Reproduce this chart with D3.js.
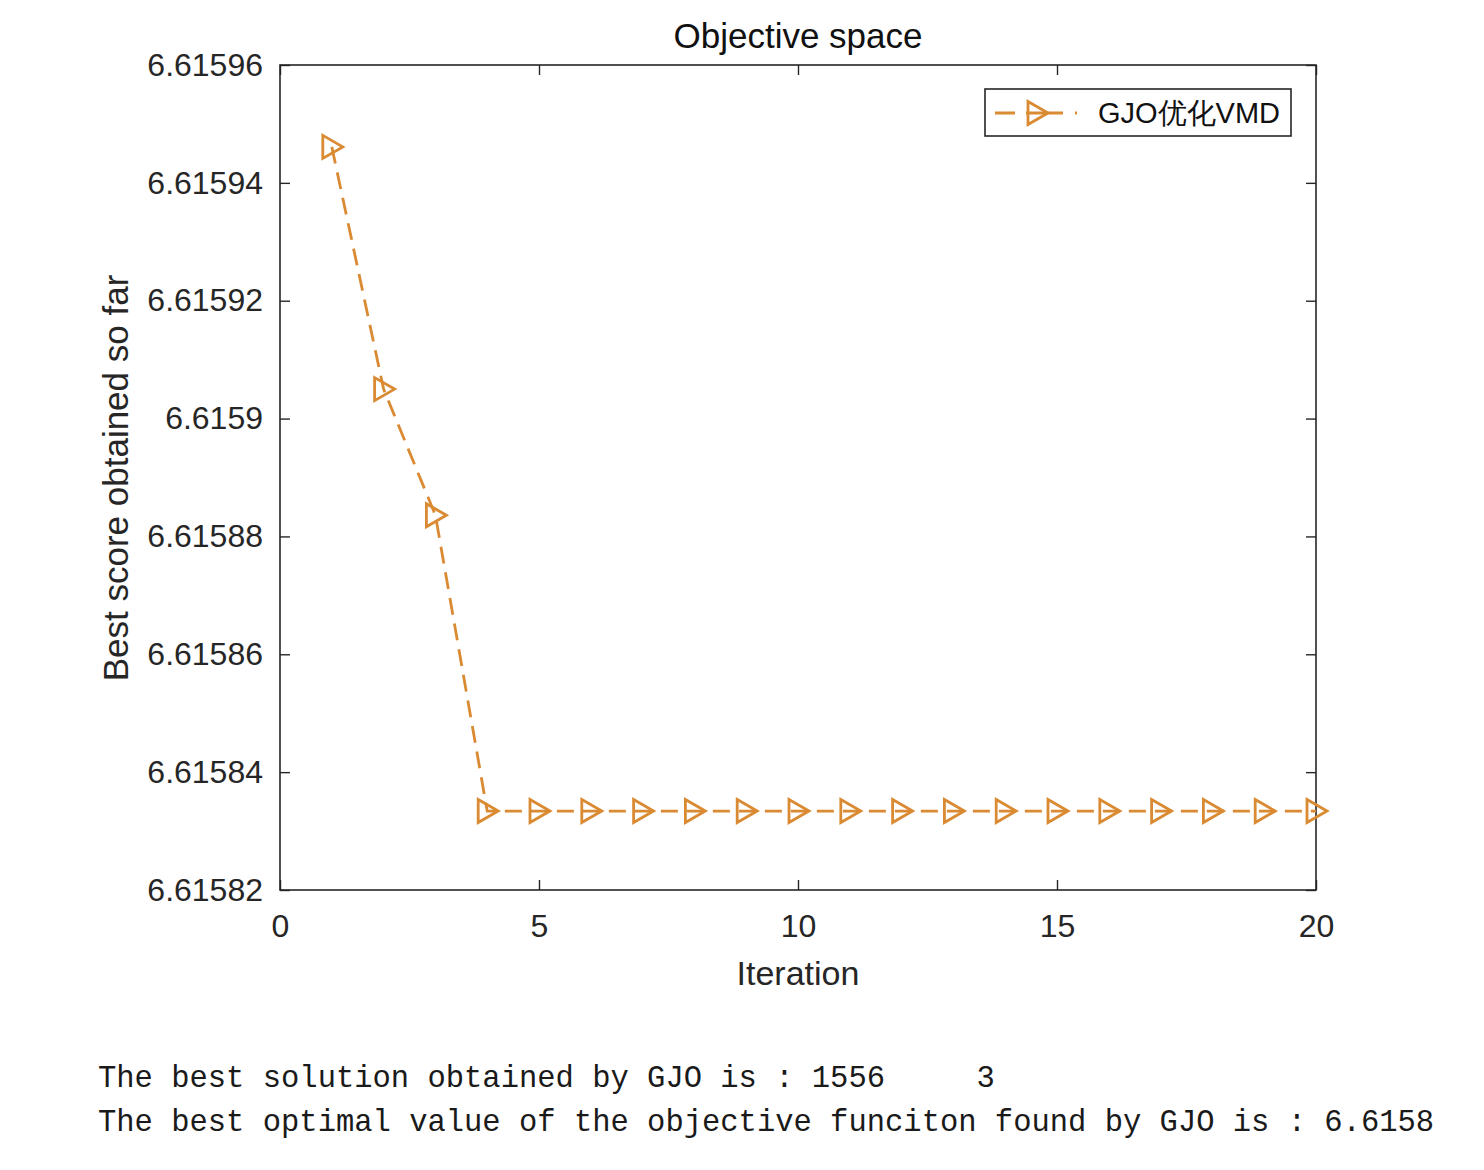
<!DOCTYPE html>
<html>
<head>
<meta charset="utf-8">
<script src="https://cdn.jsdelivr.net/npm/d3@7"></script>
<style>
  html, body { margin: 0; padding: 0; background: #fff; }
  svg { display: block; }
</style>
</head>
<body>
<svg id="chart" width="1484" height="1170"></svg>
<script>
// convergence curve
const iterations = d3.range(1, 21);
const bestScores = [
  6.6159461, 6.6159050, 6.6158836,
  6.6158334, 6.6158334, 6.6158334, 6.6158334, 6.6158334, 6.6158334, 6.6158334,
  6.6158334, 6.6158334, 6.6158334, 6.6158334, 6.6158334, 6.6158334, 6.6158334,
  6.6158334, 6.6158334, 6.6158334
];
const xTicks = [0, 5, 10, 15, 20];
const yTicks = [6.61582, 6.61584, 6.61586, 6.61588, 6.6159, 6.61592, 6.61594, 6.61596];
const seriesName = "GJO优化VMD";
const consoleLines = [
  "The best solution obtained by GJO is : 1556     3",
  "The best optimal value of the objective funciton found by GJO is : 6.6158"
];

const ink = "#262626";
const orange = "#D98A32";
const sans = "Liberation Sans, Arial, Helvetica, sans-serif";

const margin = { top: 65, right: 168, bottom: 280, left: 280 };
const width = 1484 - margin.left - margin.right;
const height = 1170 - margin.top - margin.bottom;

const svg = d3.select("#chart");
const g = svg.append("g").attr("transform", `translate(${margin.left},${margin.top})`);

const x = d3.scaleLinear().domain([0, 20]).range([0, width]);
const y = d3.scaleLinear().domain([6.61582, 6.61596]).range([height, 0]);

const styleAxis = (axis) => {
  axis.select(".domain").remove();
  axis.selectAll("line").attr("stroke", ink).attr("stroke-width", 1.4);
  axis.selectAll("text").attr("fill", ink).style("font-family", sans).style("font-size", "32px");
};

// bottom / top ticks (inward)
g.append("g")
  .attr("transform", `translate(0,${height})`)
  .call(d3.axisBottom(x).tickValues(xTicks).tickSizeInner(-10).tickSizeOuter(0).tickPadding(24).tickFormat(d3.format("d")))
  .call(styleAxis);
g.append("g")
  .call(d3.axisTop(x).tickValues(xTicks).tickSizeInner(-10).tickSizeOuter(0).tickFormat(""))
  .call(styleAxis);

// left / right ticks (inward)
g.append("g")
  .call(d3.axisLeft(y).tickValues(yTicks).tickSizeInner(-10).tickSizeOuter(0).tickPadding(17).tickFormat((v) => String(+v.toFixed(5))))
  .call(styleAxis);
g.append("g")
  .attr("transform", `translate(${width},0)`)
  .call(d3.axisRight(y).tickValues(yTicks).tickSizeInner(-10).tickSizeOuter(0).tickFormat(""))
  .call(styleAxis);

// box
g.append("rect")
  .attr("width", width).attr("height", height)
  .attr("fill", "none").attr("stroke", ink).attr("stroke-width", 1.6);

// series
const points = iterations.map((it, i) => ({ it, v: bestScores[i] }));
const line = d3.line().x((p) => x(p.it)).y((p) => y(p.v));
g.append("path")
  .attr("d", line(points))
  .attr("fill", "none")
  .attr("stroke", orange)
  .attr("stroke-width", 2.8)
  .attr("stroke-dasharray", "17 9");

const tri = "M-9,-11.5 L11,0 L-9,11.5 Z";
g.selectAll(".marker")
  .data(points)
  .join("path")
  .attr("class", "marker")
  .attr("d", tri)
  .attr("transform", (p) => `translate(${x(p.it)},${y(p.v)})`)
  .attr("fill", "none")
  .attr("stroke", orange)
  .attr("stroke-width", 2.8)
  .attr("stroke-linejoin", "miter");

// title and labels
svg.append("text")
  .attr("x", margin.left + width / 2).attr("y", 48)
  .attr("text-anchor", "middle")
  .attr("fill", "#111")
  .style("font-family", sans).style("font-size", "35px")
  .text("Objective space");

svg.append("text")
  .attr("x", margin.left + width / 2).attr("y", 985)
  .attr("text-anchor", "middle")
  .attr("fill", ink)
  .style("font-family", sans).style("font-size", "34px")
  .text("Iteration");

svg.append("text")
  .attr("transform", `translate(128,${478}) rotate(-90)`)
  .attr("text-anchor", "middle")
  .attr("fill", ink)
  .style("font-family", sans).style("font-size", "35px")
  .text("Best score obtained so far");

// legend
const legend = svg.append("g").attr("transform", "translate(985,89)");
legend.append("rect")
  .attr("width", 306).attr("height", 47)
  .attr("fill", "#fff").attr("stroke", ink).attr("stroke-width", 1.6);
legend.append("line")
  .attr("x1", 10).attr("x2", 92).attr("y1", 24).attr("y2", 24)
  .attr("stroke", orange).attr("stroke-width", 2.8)
  .attr("stroke-dasharray", "20 11 37 12 2");
legend.append("path")
  .attr("d", tri)
  .attr("transform", "translate(52,24)")
  .attr("fill", "none").attr("stroke", orange).attr("stroke-width", 2.8);
legend.append("text")
  .attr("x", 113).attr("y", 34)
  .attr("fill", "#111")
  .style("font-family", sans).style("font-size", "29px")
  .text(seriesName);

// console output under the chart
svg.selectAll(".console")
  .data(consoleLines)
  .join("text")
  .attr("class", "console")
  .attr("x", 98)
  .attr("y", (d, i) => 1087 + i * 44)
  .attr("fill", "#1a1a1a")
  .attr("xml:space", "preserve")
  .style("white-space", "pre")
  .style("font-family", "Liberation Mono, Courier New, monospace")
  .style("font-size", "30.5px")
  .text((d) => d);
</script>
</body>
</html>
